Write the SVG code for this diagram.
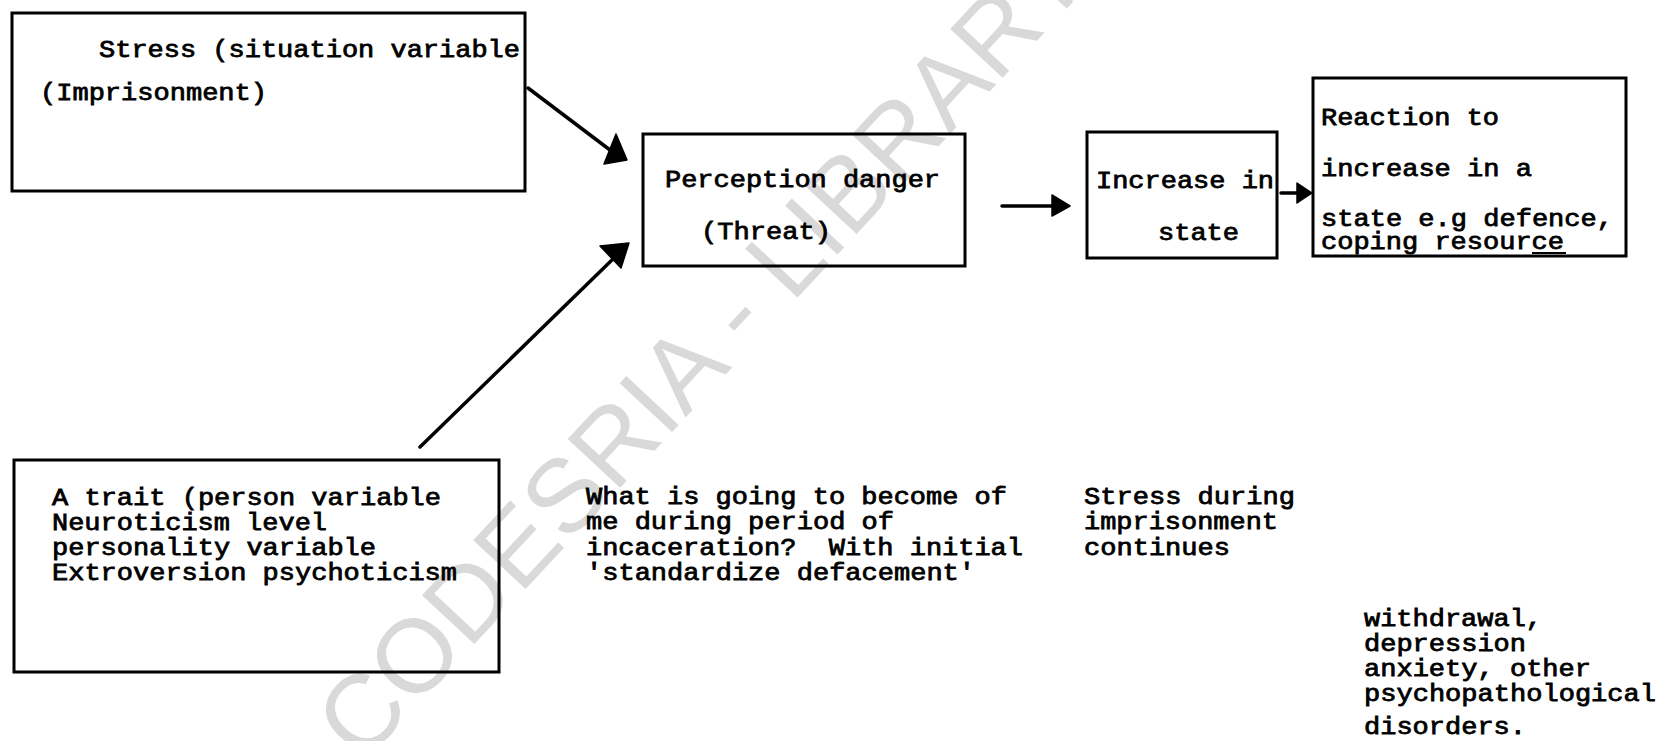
<svg xmlns="http://www.w3.org/2000/svg" width="1666" height="741" viewBox="0 0 1666 741">
<style>
.bg{fill:#fff}
.wm{font-family:"Liberation Sans",Arial,sans-serif;font-size:104px;fill:#d9d9d9}
.box{fill:none;stroke:#000;stroke-width:3}
.t{font-family:"Liberation Mono","Courier New",monospace;font-size:24px;fill:#000;stroke:#000;stroke-width:0.8}
.ln{stroke:#000;stroke-width:3.5;fill:none;stroke-linecap:round}
.hd{fill:#000;stroke:#000;stroke-width:1.5;stroke-linejoin:round}
</style>
<rect class="bg" x="0" y="0" width="1666" height="741"/>
<text class="wm" transform="translate(728,372) rotate(-47)" text-anchor="middle">CODESRIA - LIBRARY</text>

<g id="connectors">
  <line class="ln" x1="528" y1="88" x2="610" y2="150"/>
  <polygon class="hd" points="616,134 604,164 627,160"/>
  <line class="ln" x1="420" y1="447" x2="614" y2="258"/>
  <polygon class="hd" points="600,246 629,243 621,268"/>
  <line class="ln" x1="1002" y1="206" x2="1054" y2="206"/>
  <polygon class="hd" points="1052,195 1070,206 1052,216"/>
  <line class="ln" x1="1281" y1="193" x2="1300" y2="193"/>
  <polygon class="hd" points="1297,183 1312,193 1297,203"/>
</g>

<g id="stress">
  <rect class="box" x="12" y="13" width="513" height="178"/>
  <text class="t" x="99" y="57" textLength="421" lengthAdjust="spacingAndGlyphs">Stress (situation variable</text>
  <text class="t" x="40" y="100" textLength="227" lengthAdjust="spacingAndGlyphs">(Imprisonment)</text>
</g>

<g id="perception">
  <rect class="box" x="643" y="134" width="322" height="132"/>
  <text class="t" x="665" y="187" textLength="275" lengthAdjust="spacingAndGlyphs">Perception danger</text>
  <text class="t" x="701" y="239" textLength="130" lengthAdjust="spacingAndGlyphs">(Threat)</text>
</g>

<g id="increase">
  <rect class="box" x="1087" y="132" width="190" height="126"/>
  <text class="t" x="1096" y="188" textLength="178" lengthAdjust="spacingAndGlyphs">Increase in</text>
  <text class="t" x="1158" y="240" textLength="81" lengthAdjust="spacingAndGlyphs">state</text>
</g>

<g id="reaction">
  <rect class="box" x="1313" y="78" width="313" height="178"/>
  <text class="t" x="1321" y="125" textLength="178" lengthAdjust="spacingAndGlyphs">Reaction to</text>
  <text class="t" x="1321" y="176" textLength="211" lengthAdjust="spacingAndGlyphs">increase in a</text>
  <text class="t" x="1321" y="226" textLength="292" lengthAdjust="spacingAndGlyphs">state e.g defence,</text>
  <text class="t" x="1321" y="249" textLength="243" lengthAdjust="spacingAndGlyphs">coping resource</text>
  <line x1="1532" y1="253" x2="1566" y2="253" stroke="#000" stroke-width="2"/>
</g>

<g id="trait">
  <rect class="box" x="14" y="460" width="485" height="212"/>
  <text class="t" x="52" y="505" textLength="389" lengthAdjust="spacingAndGlyphs">A trait (person variable</text>
  <text class="t" x="52" y="530" textLength="275" lengthAdjust="spacingAndGlyphs">Neuroticism level</text>
  <text class="t" x="52" y="555" textLength="324" lengthAdjust="spacingAndGlyphs">personality variable</text>
  <text class="t" x="52" y="580" textLength="405" lengthAdjust="spacingAndGlyphs">Extroversion psychoticism</text>
</g>

<g id="note-perception">
  <text class="t" x="586" y="504" textLength="421" lengthAdjust="spacingAndGlyphs">What is going to become of</text>
  <text class="t" x="586" y="529" textLength="308" lengthAdjust="spacingAndGlyphs">me during period of</text>
  <text class="t" x="586" y="555" textLength="437" lengthAdjust="spacingAndGlyphs">incaceration?&#160; With initial</text>
  <text class="t" x="586" y="580" textLength="389" lengthAdjust="spacingAndGlyphs">'standardize defacement'</text>
</g>

<g id="note-increase">
  <text class="t" x="1084" y="504" textLength="211" lengthAdjust="spacingAndGlyphs">Stress during</text>
  <text class="t" x="1084" y="529" textLength="194" lengthAdjust="spacingAndGlyphs">imprisonment</text>
  <text class="t" x="1084" y="555" textLength="146" lengthAdjust="spacingAndGlyphs">continues</text>
</g>

<g id="note-reaction">
  <text class="t" x="1364" y="626" textLength="178" lengthAdjust="spacingAndGlyphs">withdrawal,</text>
  <text class="t" x="1364" y="651" textLength="162" lengthAdjust="spacingAndGlyphs">depression</text>
  <text class="t" x="1364" y="676" textLength="227" lengthAdjust="spacingAndGlyphs">anxiety, other</text>
  <text class="t" x="1364" y="701" textLength="292" lengthAdjust="spacingAndGlyphs">psychopathological</text>
  <text class="t" x="1364" y="734" textLength="162" lengthAdjust="spacingAndGlyphs">disorders.</text>
</g>
</svg>
